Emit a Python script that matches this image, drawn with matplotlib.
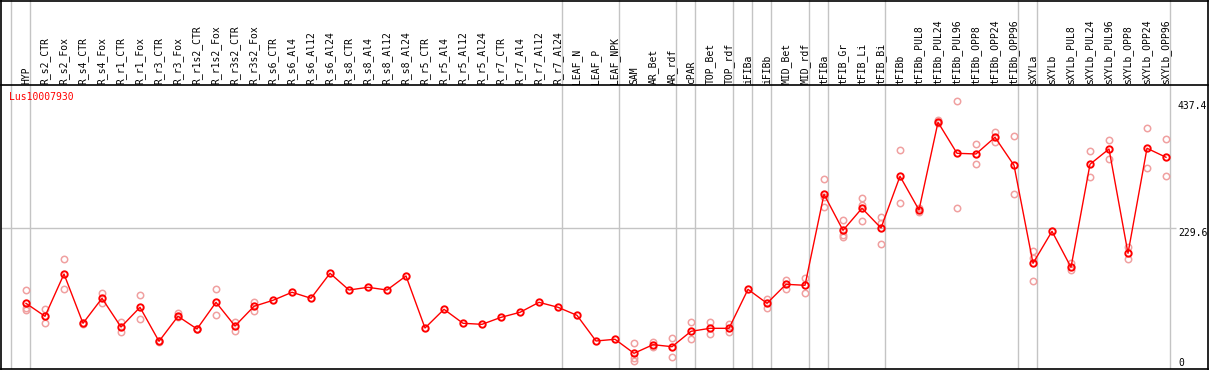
import matplotlib
matplotlib.use("Agg")
import matplotlib.pyplot as plt
from matplotlib.lines import Line2D
import numpy as np

# ---------------- data ----------------
labels = ["HYP",
          "R_s2_CTR", "R_s2_Fox", "R_s4_CTR", "R_s4_Fox", "R_r1_CTR", "R_r1_Fox",
          "R_r3_CTR", "R_r3_Fox", "R_r1s2_CTR", "R_r1s2_Fox", "R_r3s2_CTR", "R_r3s2_Fox",
          "R_s6_CTR", "R_s6_Al4", "R_s6_Al12", "R_s6_Al24",
          "R_s8_CTR", "R_s8_Al4", "R_s8_Al12", "R_s8_Al24",
          "R_r5_CTR", "R_r5_Al4", "R_r5_Al12", "R_r5_Al24",
          "R_r7_CTR", "R_r7_Al4", "R_r7_Al12", "R_r7_Al24",
          "LEAF_N", "LEAF_P", "LEAF_NPK",
          "SAM", "AR_Bet", "AR_rdf",
          "cPAR",
          "TOP_Bet", "TOP_rdf",
          "iFIBa",
          "iFIBb",
          "MID_Bet", "MID_rdf",
          "tFIBa",
          "tFIB_Gr", "tFIB_Li", "tFIB_Bi",
          "tFIBb", "tFIBb_PUL8", "tFIBb_PUL24", "tFIBb_PUL96",
          "tFIBb_OPP8", "tFIBb_OPP24", "tFIBb_OPP96",
          "sXYLa",
          "sXYLb", "sXYLb_PUL8", "sXYLb_PUL24", "sXYLb_PUL96",
          "sXYLb_OPP8", "sXYLb_OPP24", "sXYLb_OPP96"]

group_sizes = [1, 28, 3, 3, 1, 2, 1, 1, 2, 1, 3, 7, 1, 7]

means = [107.2, 86.0, 155.0, 74.6, 115.4, 68.5, 100.7, 45.2, 86.0, 65.3, 108.8,
         70.2, 102.3, 112.1, 125.2, 115.4, 156.2, 128.9, 133.3, 128.9, 151.8,
         66.9, 97.4, 74.6, 72.9, 84.3, 92.5, 108.8, 100.7, 87.6, 45.7, 48.5,
         25.6, 39.7, 36.4, 61.5, 66.4, 66.4, 130.0, 107.2, 138.2, 136.6,
         285.1, 226.3, 262.3, 230.1, 314.5, 259.5, 402.6, 352.0, 350.9, 378.1,
         332.4, 172.5, 224.7, 166.0, 334.1, 359.0, 188.8, 360.2, 345.5]

replicates = [[128.9, 99.0, 96.3], [97.9, 74.6], [179.0, 130.6], [75.5, 73.5],
              [124.5, 107.2], [77.2, 59.9], [120.8, 81.1], [45.8, 44.5],
              [90.9, 84.3], [66.0, 64.5], [130.0, 87.6], [76.2, 62.5],
              [109.8, 95.1],
              [], [], [], [], [], [], [], [], [], [], [], [], [], [], [], [],
              [], [], [],
              [41.9, 18.5, 13.6], [44.6, 36.4], [50.1, 19.0], [76.2, 48.5],
              [76.2, 57.7], [74.0, 60.4], [], [114.2, 99.0], [144.7, 130.0],
              [148.0, 123.5], [309.6, 280.2, 263.9], [243.2, 215.9, 218.0],
              [279.1, 268.2, 241.5], [247.6, 237.8, 203.5], [356.9, 270.4],
              [262.3, 256.5], [406.4, 400.7], [437.4, 262.3], [367.2, 334.5],
              [386.3, 371.0], [379.8, 285.1], [193.1, 180.6, 143.6], [],
              [172.5, 161.6], [355.3, 312.8], [373.2, 343.2], [198.6, 179.0],
              [392.8, 327.5], [374.9, 314.5]]

ytick_values = [437.4, 229.6, 0]
gene_name = "Lus10007930"

# ---------------- layout ----------------
W, H = 1209, 370
fig = plt.figure(figsize=(W / 100, H / 100), dpi=100)
fig.patch.set_facecolor("white")

font = dict(family="DejaVu Sans Mono", size=7)

x0_px, dx_px = 26.0, 19.0
xl = ((1 - x0_px) / dx_px, (1207 - x0_px) / dx_px)

plot_top, plot_bot = 85, 369
ax = fig.add_axes([1 / W, 1 - plot_bot / H, 1206 / W, (plot_bot - plot_top) / H])
ax.set_xlim(*xl)
ax.set_ylim(0, 229.6 * (plot_bot - plot_top) / 140.7)
ax.axis("off")

hax = fig.add_axes([1 / W, 1 - plot_top / H, 1206 / W, plot_top / H])
hax.set_xlim(*xl)
hax.set_ylim(plot_top, 0)
hax.axis("off")

grey = "#c4c4c4"
# group separators
ends = np.concatenate([[-1], np.cumsum(group_sizes) - 1])
for e in ends:
    for a in (ax, hax):
        a.axvline(e + 0.23, color=grey, lw=1.0, zorder=1)

# horizontal grid at mid value
ax.hlines(ytick_values[1], xl[0], 60.55, color=grey, lw=1.0, zorder=1)

x = np.arange(len(labels))

# replicates
rx, ry = [], []
for i, reps in enumerate(replicates):
    for r in reps:
        rx.append(i)
        ry.append(r)
ax.plot(rx, ry, linestyle="none", marker="o", ms=4.6, mfc="none",
        mec="#f0a0a0", mew=1.1, zorder=2)

# mean line
ax.plot(x, means, color="red", lw=1.0, zorder=3,
        marker="o", ms=4.6, mfc="none", mec="red", mew=1.4)

# header labels
for i, lab in enumerate(labels):
    hax.text(i, 84, lab, rotation=90, ha="center", va="bottom", **font)

# y value labels on right
trans = ax.get_yaxis_transform()
for v in ytick_values:
    va = "bottom" if v == 0 else "top"
    ax.text((1178 - 1) / 1206, v + (2 if v == 0 else 0), f"{v:g}", transform=trans,
            ha="left", va=va, **font)

fig.text(9.5 / W, 1 - 96.7 / H, gene_name, color="red", ha="left", va="center", **font)

# borders
def hline(y, x1=1, x2=1207.5):
    fig.add_artist(Line2D([x1 / W, x2 / W], [1 - y / H, 1 - y / H], color="black",
                          lw=1.2, transform=fig.transFigure))

def vline(xp, y1=0, y2=369.5):
    fig.add_artist(Line2D([xp / W, xp / W], [1 - y1 / H, 1 - y2 / H], color="black",
                          lw=1.2, transform=fig.transFigure))

hline(0.5)
hline(85)
hline(369)
vline(1.2)
vline(1207.5)

fig.savefig("out.png", dpi=100, facecolor="white")
